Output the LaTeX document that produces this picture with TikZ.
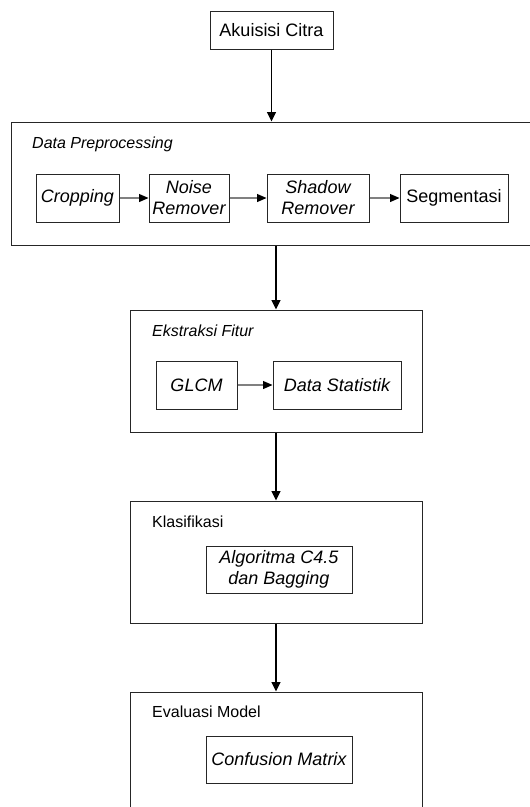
\documentclass[tikz,border=0pt]{standalone}
\usepackage{fontspec}
\setmainfont{Liberation Sans}
\usetikzlibrary{positioning, arrows.meta}

\begin{document}
\begin{tikzpicture}[
        x=1pt, y=-1pt,
        % Stili per i blocchi
        stage/.style={rectangle, draw=black!85, line width=1pt, minimum width=292pt, minimum height=122pt},
        proc/.style={rectangle, draw=black!85, line width=1pt, minimum height=48pt, inner sep=0pt, align=center, font=\fontsize{18}{21}\selectfont\itshape},
        % Stili per le etichette e frecce
        title/.style={anchor=west, inner sep=0pt, font=\fontsize{16}{18}\selectfont},
        arrow/.style={-{Triangle[length=9.5pt, width=9pt]}, line width=1.4pt, draw=black},
        subarrow/.style={-{Triangle[length=9.5pt, width=8pt, color=black]}, line width=1.1pt, draw=black!50}
    ]
    \useasboundingbox (0,0) rectangle (530,807);
    \clip (0,0) rectangle (530,807);

    % --- AKUISISI ---
    \node[proc, font=\fontsize{18}{21}\selectfont, minimum width=123pt, minimum height=38pt] (akuisisi) at (271.5, 30) {Akuisisi Citra};

    % --- DATA PREPROCESSING ---
    \node[stage, minimum width=524pt, minimum height=123pt] (prep) at (273, 183.5) {};
    \node[title, font=\fontsize{16}{18}\selectfont\itshape] (Lprep) at (32, 144) {Data Preprocessing};
    \node[proc, minimum width=83pt] (crop) at (77.5, 198) {Cropping};
    \node[proc, minimum width=80pt] (noise) at (189, 198) {Noise\\Remover};
    \node[proc, minimum width=102pt] (shadow) at (318, 198) {Shadow\\Remover};
    \node[proc, font=\fontsize{18}{21}\selectfont, minimum width=108pt] (segmen) at (454, 198) {Segmentasi};

    % --- EKSTRAKSI FITUR ---
    \node[stage] (fitur) at (276, 371) {};
    \node[title, font=\fontsize{16}{18}\selectfont\itshape] (Lfitur) at (152, 331) {Ekstraksi Fitur};
    \node[proc, minimum width=81pt] (glcm) at (196.5, 385) {GLCM};
    \node[proc, minimum width=128pt] (statistik) at (337, 385) {Data Statistik};

    % --- KLASIFIKASI ---
    \node[stage] (klasifikasi) at (276, 562) {};
    \node[title] (Lklas) at (152, 522) {Klasifikasi};
    \node[proc, minimum width=146pt, minimum height=47pt] (algoritma) at (279, 569.5) {Algoritma C4.5\\dan Bagging};

    % --- EVALUASI MODEL ---
    \node[stage] (evaluasi) at (276, 753) {};
    \node[title] (Leval) at (152, 712) {Evaluasi Model};
    \node[proc, minimum width=146pt, minimum height=47pt] (confusion) at (279, 759.5) {Confusion Matrix};

    % --- ARROWS ---
    \draw[arrow] (akuisisi.south) -- (akuisisi.south |- prep.north);
    \draw[arrow] (fitur.north |- prep.south) -- (fitur.north);
    \draw[arrow] (fitur.south) -- (klasifikasi.north);
    \draw[arrow] (klasifikasi.south) -- (evaluasi.north);

    \draw[subarrow] (crop) -- (noise);
    \draw[subarrow] (noise) -- (shadow);
    \draw[subarrow] (shadow) -- (segmen);
    \draw[subarrow] (glcm) -- (statistik);

\end{tikzpicture}
\end{document}
